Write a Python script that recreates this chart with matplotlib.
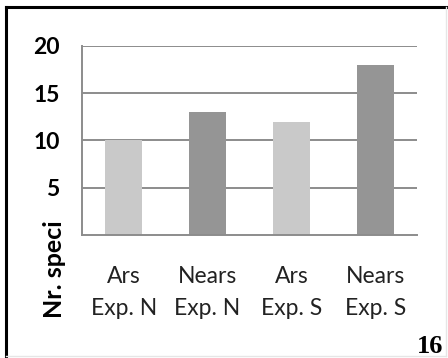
import matplotlib
matplotlib.use('Agg')
import matplotlib.pyplot as plt
from matplotlib.lines import Line2D

# date: numărul de specii pe expoziții
categorii = ['Ars\nExp. N', 'Nears\nExp. N', 'Ars\nExp. S', 'Nears\nExp. S']
nr_specii = [10, 13, 12, 18]
culori = ['#c9c9c9', '#959595', '#c9c9c9', '#959595']
y_ticks = [5, 10, 15, 20]

plt.rcParams['font.family'] = ['Lato', 'DejaVu Sans']

fig = plt.figure(figsize=(4.48, 3.58), dpi=100)
ax = fig.add_axes([82 / 448, 1 - 235 / 358, 335 / 448, 189 / 358])

x = range(len(categorii))
ax.bar(x, nr_specii, width=0.44, color=culori, zorder=2)

ax.set_xlim(-0.5, len(categorii) - 0.5)
ax.set_ylim(0, 20)
ax.set_yticks(y_ticks)
ax.yaxis.grid(True, color='#8c8c8c', linewidth=1.4, zorder=1)
ax.set_axisbelow(True)

for s in ['top', 'right']:
    ax.spines[s].set_visible(False)
ax.spines['left'].set_color('#8c8c8c')
ax.spines['left'].set_linewidth(1.4)
ax.spines['bottom'].set_color('#8c8c8c')
ax.spines['bottom'].set_linewidth(1.4)

ax.tick_params(axis='y', length=0, pad=16, labelsize=16.5)
for t in ax.get_yticklabels():
    t.set_fontweight('bold')
ax.set_xticks(list(x))
ax.set_xticklabels(categorii, fontsize=16.5, color='#222222', linespacing=1.65)
ax.tick_params(axis='x', length=0, pad=22)

fig.text(54 / 448, 1 - 269 / 358, 'Nr. speci', rotation=90, fontsize=18,
         fontweight='bold', ha='center', va='center')

fig.text(443 / 448, 1 - 353 / 358, '16', fontsize=19, fontweight='bold',
         family='Liberation Serif', ha='right', va='baseline')

# chenarul paginii
fig.add_artist(Line2D([6 / 448, 6 / 448], [1 - 7 / 358, 1 - 357 / 358],
                      transform=fig.transFigure, color='black', linewidth=2.2))
fig.add_artist(Line2D([6 / 448, 1], [1 - 7 / 358, 1 - 7 / 358],
                      transform=fig.transFigure, color='black', linewidth=2.2))
fig.add_artist(Line2D([446 / 448, 446 / 448], [1 - 7 / 358, 1 - 356 / 358],
                      transform=fig.transFigure, color='#e6e6e6', linewidth=1))
fig.add_artist(Line2D([6 / 448, 446 / 448], [1 - 356 / 358, 1 - 356 / 358],
                      transform=fig.transFigure, color='#e6e6e6', linewidth=1))

fig.savefig('out.png', dpi=100)
